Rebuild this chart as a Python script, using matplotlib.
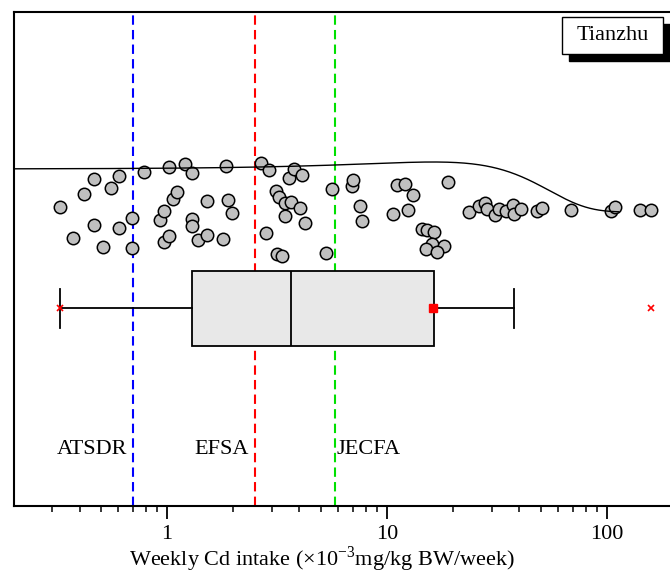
import numpy as np
import matplotlib
matplotlib.use('Agg')
import matplotlib.pyplot as plt
from matplotlib.patches import Rectangle

plt.rcParams['font.family'] = ['Liberation Serif', 'DejaVu Serif']
plt.rcParams['mathtext.fontset'] = 'custom'
plt.rcParams['mathtext.rm'] = 'Liberation Serif'

# ----------- data (weekly Cd intake, x10^-3 mg/kg BW/week) -----------
intake = [0.325, 0.373, 0.420, 0.466, 0.466, 0.512, 0.558, 0.605, 0.605, 0.695,
          0.695, 0.786, 0.929, 0.972, 0.972, 1.018, 1.021, 1.065, 1.110, 1.203,
          1.295, 1.295, 1.295, 1.388, 1.525, 1.525, 1.803, 1.854, 1.894, 1.981,
          2.675, 2.810, 2.909, 3.130, 3.172, 3.229, 3.332, 3.439, 3.440, 3.596,
          3.650, 3.766, 4.010, 4.108, 4.253, 5.299, 5.623, 6.955, 7.030, 7.560,
          7.720, 10.61, 11.10, 12.07, 12.42, 13.17, 14.47, 15.15, 16.36, 16.01,
          18.10, 15.04, 16.82, 18.94, 23.51, 26.12, 27.81, 28.57, 31.07, 32.39,
          34.64, 37.39, 37.90, 40.77, 48.07, 50.50, 68.40, 104.3, 109.1, 140.8,
          158.5]
# vertical jitter of the dots (as drawn)
jitter = [298.7, 267.7, 312.3, 326.7, 281.0, 259.0, 318.0, 329.7, 278.0, 288.3,
          257.7, 334.0, 285.7, 295.0, 263.7, 269.7, 338.7, 307.3, 313.7, 341.7,
          332.7, 287.0, 279.7, 265.7, 305.0, 271.0, 266.7, 340.0, 306.3, 293.0,
          343.0, 272.7, 335.7, 314.7, 252.0, 308.7, 250.0, 302.7, 290.0, 328.3,
          303.7, 336.7, 297.7, 331.3, 283.0, 253.3, 316.7, 319.7, 325.7, 300.3,
          284.7, 291.7, 321.0, 322.3, 296.0, 310.7, 277.0, 275.7, 274.0, 262.3,
          260.3, 256.7, 254.3, 323.7, 293.7, 299.7, 302.7, 297.3, 290.7, 296.7,
          294.7, 301.3, 292.3, 296.7, 295.0, 297.7, 296.3, 294.7, 298.7, 296.3,
          296.3]

guide_names = ['ATSDR', 'EFSA', 'JECFA']
guide_values = [0.7, 2.5, 5.8]
guide_colors = ['#0000ff', '#ff0000', '#00e000']

x = np.array(intake)

fig = plt.figure(figsize=(6.70, 5.73), dpi=100)
ax = fig.add_axes([14 / 670, 1 - 506 / 573, 1 - 14 / 670, (506 - 12) / 573])
ax.set_xscale('log')
ax.set_xlim(0.2015, 193.3)
ax.set_ylim(0, 494)

# guide lines
for nm, v, c in zip(guide_names, guide_values, guide_colors):
    ax.axvline(v, color=c, lw=1.5, ls=(0, (4.5, 2.5)), zorder=1)
    if nm == 'JECFA':
        ax.annotate(nm, (v, 56), xytext=(1, 0), textcoords='offset points',
                    ha='left', va='center', fontsize=16)
    else:
        ax.annotate(nm, (v, 56), xytext=(-4, 0), textcoords='offset points',
                    ha='right', va='center', fontsize=16)

# box plot
ax.boxplot([x], positions=[198], widths=75, vert=False, whis=1.5,
           showfliers=False, showmeans=True, patch_artist=True,
           capwidths=39,
           boxprops=dict(facecolor='#e8e8e8', edgecolor='black', lw=1.3),
           medianprops=dict(color='black', lw=1.3),
           whiskerprops=dict(color='black', lw=1.3),
           capprops=dict(color='black', lw=1.3),
           meanprops=dict(marker='s', markerfacecolor='red', markeredgecolor='red', markersize=6),
           zorder=3)
ax.plot([x.min(), x.max()], [198, 198], ls='none', marker='x', color='red',
        markersize=5, mew=1.2, zorder=4)

# dots
ax.scatter(x, jitter, s=80, facecolor='#c0c0c0', edgecolor='black', lw=1.1, zorder=5)

# normal distribution curve
m, sd = x.mean(), x.std(ddof=1)
xc = np.geomspace(0.2015, 113, 400)
yc = 294 + 50 * np.exp(-(xc - m) ** 2 / (2 * sd ** 2))
ax.plot(xc, yc, color='black', lw=1, zorder=6)

# legend box with hard shadow
bx, by, bw, bh = 0.8354, 0.9150, 0.1539, 0.0749
ax.add_patch(Rectangle((bx + 0.0107, by - 0.0142), bw, bh, transform=ax.transAxes,
                       fc='black', ec='black', zorder=7, clip_on=False))
ax.add_patch(Rectangle((bx, by), bw, bh, transform=ax.transAxes,
                       fc='white', ec='black', lw=1, zorder=8, clip_on=False))
ax.text(bx + bw / 2, by + bh / 2, 'Tianzhu', transform=ax.transAxes, fontsize=16,
        ha='center', va='center', zorder=9)

ax.set_yticks([])
ax.spines['right'].set_visible(False)
for s in ['left', 'bottom', 'top']:
    ax.spines[s].set_linewidth(1.5)
ax.set_xticks([1, 10, 100])
ax.set_xticklabels(['1', '10', '100'])
ax.tick_params(axis='x', which='major', length=9, width=1.3, labelsize=16, pad=5)
ax.tick_params(axis='x', which='minor', length=4.5, width=1.1)
ax.tick_params(axis='x', which='both', top=False)
ax.set_xlabel('Weekly Cd intake (×10$^{\\mathregular{-3}}$mg/kg BW/week)', fontsize=16)
ax.xaxis.set_label_coords(0.47, -0.077)

plt.savefig('out.png', dpi=100)
